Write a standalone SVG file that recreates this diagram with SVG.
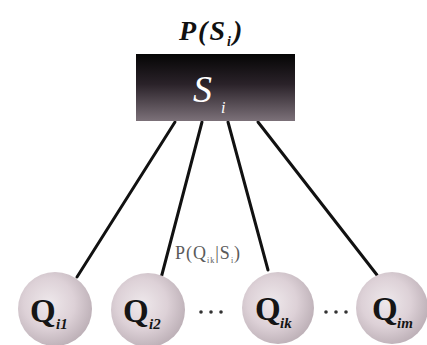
<svg xmlns="http://www.w3.org/2000/svg" width="427" height="345" viewBox="0 0 427 345">
<defs>
<linearGradient id="boxg" x1="0" y1="0" x2="0" y2="1">
<stop offset="0" stop-color="#050505"/>
<stop offset="0.45" stop-color="#2a2229"/>
<stop offset="1" stop-color="#7c7179"/>
</linearGradient>
<radialGradient id="ball" cx="0.42" cy="0.42" r="0.62">
<stop offset="0" stop-color="#eee8eb"/>
<stop offset="0.55" stop-color="#ddd1d7"/>
<stop offset="1" stop-color="#bcafb6"/>
</radialGradient>
<style>
.edge{stroke:#111;stroke-width:3;fill:none;stroke-linecap:round}
.ball{fill:url(#ball)}
.q{font-family:"Liberation Serif",serif;font-size:33px;font-weight:bold;fill:#151515}
.qs{font-family:"Liberation Serif",serif;font-size:15px;font-style:italic;font-weight:bold;fill:#151515}
.dots{fill:#333}
</style>
</defs>
<rect width="427" height="345" fill="#fff"/>
<g id="connectors">
<line class="edge" x1="175" y1="122" x2="77" y2="277"/>
<line class="edge" x1="202" y1="122" x2="160" y2="282"/>
<line class="edge" x1="228" y1="122" x2="268" y2="270"/>
<line class="edge" x1="258" y1="122" x2="377" y2="275"/>
</g>
<g id="S_i">
<text x="179" y="40" font-family="Liberation Serif,serif" font-size="28" font-style="italic" font-weight="bold" fill="#111" letter-spacing="2">P(S<tspan font-size="14" dy="6">i</tspan><tspan dy="-6">)</tspan></text>
<rect x="136" y="54" width="159" height="67" fill="url(#boxg)"/>
<text x="193" y="102" font-family="Liberation Serif,serif" font-size="38" font-style="italic" fill="#fff">S</text>
<text x="221" y="113" font-family="Liberation Serif,serif" font-size="16" font-style="italic" fill="#fff">i</text>
</g>
<g id="Q_i1">
<circle class="ball" cx="55" cy="309" r="37"/>
<text class="q" x="30" y="322">Q</text><text class="qs" x="56" y="329">i1</text>
</g>
<g id="Q_i2">
<circle class="ball" cx="148" cy="310" r="37"/>
<text class="q" x="123" y="322">Q</text><text class="qs" x="149" y="329">i2</text>
</g>
<g id="Q_ik">
<circle class="ball" cx="278" cy="308" r="36"/>
<text class="q" x="255" y="320">Q</text><text class="qs" x="280" y="328">ik</text>
</g>
<g id="Q_im">
<circle class="ball" cx="392" cy="308" r="36"/>
<text class="q" x="372" y="320">Q</text><text class="qs" x="397" y="328">im</text>
</g>
<g id="dots1" class="dots"><circle cx="201" cy="312" r="1.8"/><circle cx="211" cy="312" r="1.8"/><circle cx="221" cy="312" r="1.8"/></g>
<g id="dots2" class="dots"><circle cx="326" cy="312" r="1.8"/><circle cx="336" cy="312" r="1.8"/><circle cx="346" cy="312" r="1.8"/></g>
<text x="175" y="259" font-family="Liberation Serif,serif" font-size="18" fill="#5a5a5a" letter-spacing="1">P(Q<tspan font-size="8" dy="4">ik</tspan><tspan dy="-4">|S</tspan><tspan font-size="8" dy="4">i</tspan><tspan dy="-4">)</tspan></text>
</svg>
